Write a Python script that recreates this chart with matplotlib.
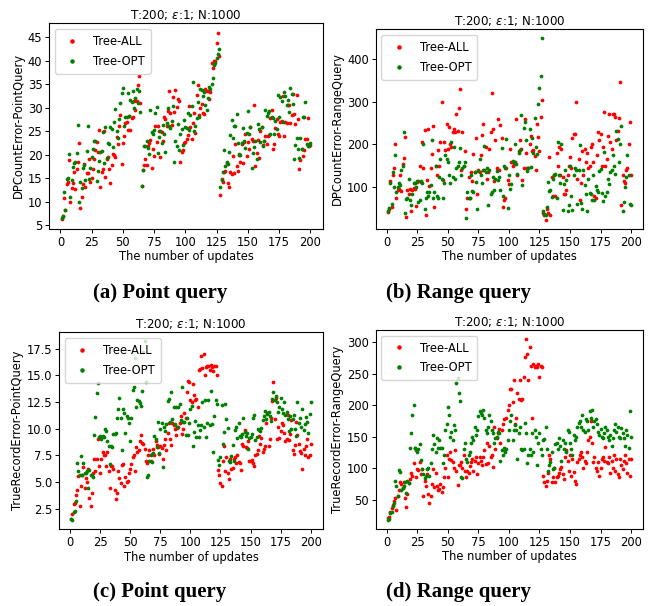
import numpy as np
import matplotlib
matplotlib.use("Agg")
import matplotlib.pyplot as plt
from matplotlib.ticker import MultipleLocator

# ---------------- data ----------------
labels = ["Tree-ALL", "Tree-OPT"]
title_txt = r"T:200; $\varepsilon$:1; N:1000"
xlabel_txt = "The number of updates"
ylabels = ["DPCountError-PointQuery", "DPCountError-RangeQuery",
           "TrueRecordError-PointQuery", "TrueRecordError-RangeQuery"]
captions = ["(a) Point query", "(b) Range query", "(c) Point query", "(d) Range query"]

# (a) DPCountError-PointQuery
a_all = [
    6.2, 7.0, 10.8, 8.3, 13.7, 14.2, 18.8, 9.9, 12.9, 13.9,
    16.2, 12.6, 17.0, 18.4, 22.5, 8.6, 11.0, 13.8, 17.9, 13.0,
    16.0, 16.1, 19.0, 14.1, 15.0, 17.0, 19.0, 21.0, 22.7, 20.5,
    25.2, 13.2, 16.3, 17.0, 25.1, 15.2, 19.0, 19.4, 17.0, 13.9,
    17.8, 20.2, 20.0, 19.5, 23.8, 22.3, 26.2, 28.5, 18.0, 22.5,
    24.0, 26.8, 27.0, 25.2, 28.2, 25.3, 27.9, 28.0, 31.4, 29.6,
    31.5, 34.8, 36.8, 31.0,
    13.3, 16.8, 17.8, 19.0, 17.8, 21.8, 22.4, 23.1, 17.1, 21.3,
    19.8, 26.0, 22.7, 26.0, 25.0, 19.5, 24.9, 23.0, 28.0, 27.6,
    26.0, 29.2, 33.6, 28.8, 26.3, 32.3, 29.0, 33.7, 30.2, 31.8,
    31.5, 18.5, 20.6, 21.0, 22.4, 22.6, 23.4, 24.1, 30.4, 25.8,
    23.4, 26.7, 28.8, 24.6, 32.8, 34.9, 28.4, 30.0, 30.8, 28.8,
    28.7, 33.9, 33.5, 33.6, 31.9, 33.3, 39.6, 38.4, 39.9, 40.0,
    43.7, 46.0, 41.0,
    11.4, 14.8, 14.2, 16.2, 16.6, 18.3, 14.0, 13.0, 16.4, 15.8,
    19.8, 16.0, 22.3, 17.5, 16.5, 19.9, 18.5, 22.3, 18.2, 22.6,
    24.5, 19.8, 22.7, 21.2, 25.8, 23.4, 22.8, 30.5, 17.6, 20.4,
    23.2, 19.2, 25.1, 25.8, 22.0, 22.9, 24.0, 22.2, 24.0, 24.1,
    27.7, 29.6, 21.1, 22.2, 25.6, 27.6, 24.4, 24.0, 27.0, 27.2,
    32.6, 24.0, 26.9, 26.7, 30.5, 30.5, 26.7, 28.5, 33.0, 28.6,
    26.5, 32.8, 27.5, 17.0, 18.8, 21.2, 19.6, 21.0, 23.4, 23.4,
    27.7, 21.9, 22.0]
a_opt = [
    6.5, 7.0, 12.1, 8.3, 14.8, 15.0, 20.2, 11.0, 14.5, 17.4,
    18.3, 18.5, 20.3, 26.4, 10.0, 14.2, 12.8, 17.1, 17.7, 14.6,
    20.7, 26.2, 14.7, 17.1, 19.5, 21.2, 22.9, 23.0, 14.3, 16.6,
    18.7, 20.6, 20.7, 24.9, 18.2, 25.9, 19.2, 22.5, 22.3, 25.8,
    25.4, 21.6, 27.0, 29.8, 25.1, 23.5, 27.5, 31.0, 33.1, 34.1,
    26.2, 28.1, 28.1, 33.2, 28.2, 31.6, 31.3, 33.5, 30.0, 32.0,
    34.0, 31.0, 33.5, 29.0,
    13.3, 16.8, 21.8, 21.9, 22.8, 21.5, 20.2, 29.6, 24.8, 24.4,
    25.3, 28.9, 30.2, 20.3, 23.8, 25.0, 22.5, 26.4, 24.5, 20.5,
    26.8, 29.9, 26.0, 25.6, 27.2, 30.4, 18.5, 23.0, 21.8, 26.6,
    21.0, 24.4, 25.4, 22.0, 27.3, 25.9, 25.7, 28.9, 25.3, 28.5,
    30.4, 35.4, 25.0, 26.0, 27.7, 31.3, 28.1, 33.9, 33.8, 32.5,
    33.4, 30.6, 29.5, 32.0, 34.5, 34.0, 35.0, 36.3, 39.0, 39.5,
    40.7, 41.5, 42.6,
    13.0, 14.6, 16.2, 21.0, 17.5, 18.4, 18.0, 20.5, 24.2, 27.4,
    23.6, 26.0, 26.2, 28.7, 22.5, 20.1, 20.0, 22.5, 25.6, 22.8,
    21.5, 24.6, 29.4, 24.5, 25.9, 17.2, 20.3, 21.7, 22.8, 19.0,
    26.6, 25.5, 22.6, 25.9, 21.8, 23.0, 29.6, 28.3, 28.8, 29.2,
    24.4, 28.0, 27.8, 24.4, 27.2, 25.5, 32.8, 28.1, 32.2, 31.4,
    27.0, 33.3, 32.6, 30.5, 31.6, 29.0, 34.3, 32.9, 30.8, 19.0,
    22.0, 23.6, 21.1, 19.2, 23.5, 21.3, 28.0, 28.0, 31.3, 22.2,
    21.8, 22.0, 22.4]

# (b) DPCountError-RangeQuery
b_all = [
    42, 50, 115, 55, 130, 145, 200, 75, 95, 97,
    128, 92, 155, 168, 218, 30, 95, 85, 96, 45,
    95, 98, 97, 57, 113, 115, 150, 113, 206, 145,
    234, 35, 118, 235, 103, 145, 178, 242, 55, 150,
    128, 187, 150, 205, 298, 118, 205, 187, 248, 190,
    240, 200, 195, 230, 236, 230, 270, 232, 285, 328,
    140, 230, 150, 185,
    50, 75, 125, 75, 135, 115, 178, 135, 215, 85,
    140, 135, 175, 222, 248, 140, 195, 120, 135, 190,
    228, 320, 235, 115, 210, 145, 260, 140, 245, 215,
    55, 70, 75, 145, 118, 108, 190, 160, 150, 155,
    160, 260, 130, 185, 210, 190, 118, 145, 260, 180,
    145, 145, 200, 220, 185, 188, 172, 140, 248, 218,
    185, 265, 304,
    40, 35, 25, 50, 40, 170, 35, 125, 80, 130,
    80, 180, 150, 195, 130, 190, 125, 85, 85, 95,
    130, 150, 170, 145, 215, 225, 225, 300, 120, 165,
    70, 110, 185, 130, 190, 160, 180, 145, 150, 195,
    200, 160, 80, 75, 175, 230, 210, 225, 150, 195,
    275, 150, 165, 220, 270, 205, 190, 270, 270, 265,
    210, 232, 262, 345, 60, 130, 115, 110, 140, 145,
    200, 252, 128]
b_opt = [
    45, 52, 110, 62, 135, 100, 175, 90, 100, 110,
    105, 140, 150, 230, 40, 72, 75, 120, 70, 60,
    85, 110, 110, 100, 115, 65, 70, 115, 110, 200,
    50, 75, 90, 80, 90, 105, 210, 75, 90, 150,
    80, 75, 125, 165, 120, 75, 110, 175, 165, 160,
    130, 110, 205, 125, 195, 120, 145, 150, 160, 192,
    128, 145, 150, 160,
    28, 90, 75, 75, 128, 92, 90, 135, 112, 50,
    138, 165, 128, 110, 140, 197, 135, 145, 58, 140,
    85, 90, 125, 95, 120, 138, 118, 125, 95, 192,
    80, 150, 145, 212, 52, 128, 97, 108, 162, 160,
    200, 155, 132, 180, 188, 268, 105, 238, 253, 210,
    138, 145, 237, 148, 215, 180, 261, 195, 178, 295,
    332, 360, 447,
    45, 38, 35, 55, 112, 92, 95, 78, 120, 128,
    132, 75, 205, 130, 110, 200, 48, 108, 140, 118,
    45, 60, 150, 80, 48, 128, 145, 140, 62, 140,
    198, 63, 50, 140, 105, 85, 45, 120, 88, 85,
    70, 128, 70, 103, 95, 90, 138, 142, 88, 68,
    182, 80, 90, 120, 108, 135, 140, 175, 150, 132,
    232, 213, 160, 200, 242, 45, 65, 100, 125, 175,
    128, 62, 60]

# (c) TrueRecordError-PointQuery
c_all = [
    1.5, 2.0, 2.9, 3.0, 3.8, 4.2, 5.6, 2.7, 4.6, 5.7,
    6.4, 4.4, 5.4, 5.0, 6.2, 3.5, 2.7, 4.0, 5.8, 7.2,
    6.0, 7.2, 9.0, 6.5, 5.8, 7.2, 7.8, 7.5, 7.5, 6.5,
    7.8, 6.0, 4.4, 6.5, 6.5, 6.2, 4.2, 3.4, 4.0, 6.0,
    5.4, 4.9, 6.6, 6.7, 4.6, 5.5, 5.0, 5.1, 5.8, 6.2,
    6.7, 7.3, 7.5, 6.0, 8.3, 7.8, 8.0, 8.8, 9.4, 8.7,
    8.6, 8.1, 7.0, 6.8,
    7.5, 8.0, 7.0, 7.6, 8.1, 7.5, 8.8, 8.5, 8.3, 7.6,
    8.4, 8.2, 7.2, 8.5, 9.0, 8.0, 9.6, 10.5, 9.0, 8.5,
    10.5, 10.3, 10.0, 9.4, 10.1, 10.2, 10.5, 11.2, 9.5, 10.0,
    11.5, 11.0, 13.4, 14.5, 14.4, 12.7, 12.5, 14.2, 13.2, 12.7,
    12.8, 12.0, 15.5, 15.6, 16.8, 15.7, 17.0, 15.0, 15.8, 15.9,
    15.9, 15.5, 16.0, 15.8, 15.4, 15.9, 15.9, 15.0,
    6.1, 5.7, 4.9, 4.6, 7.0, 8.4, 6.0, 7.3, 5.8, 5.3,
    7.2, 6.2, 6.3, 7.2, 7.3, 6.8, 7.5, 6.9, 6.8, 6.1,
    8.6, 8.4, 9.9, 8.3, 8.2, 8.8, 7.0, 7.0, 7.1, 6.8,
    6.5, 7.5, 7.6, 8.0, 9.3, 8.6, 9.1, 7.8, 8.1, 8.4,
    10.5, 11.5, 8.4, 9.0, 11.0, 12.6, 14.4, 10.9, 12.9, 9.0,
    10.2, 9.1, 9.8, 10.5, 10.3, 9.6, 8.8, 9.0, 11.3, 8.9,
    9.5, 10.8, 8.0, 7.6, 8.5, 10.6, 9.4, 8.6,
    7.9, 7.7, 6.2, 8.1, 7.5, 8.4, 9.0, 7.3, 7.5, 8.6]
c_opt = [
    1.5, 1.4, 2.2, 2.3, 3.2, 6.8, 6.0, 5.7, 7.4, 5.7,
    6.8, 5.8, 5.8, 6.0, 4.4, 6.1, 5.7, 5.7, 5.5, 9.4,
    11.1, 13.3, 14.3, 9.2, 9.3, 9.0, 9.3, 9.2, 10.0, 9.8,
    8.8, 8.4, 6.7, 8.4, 8.3, 9.5, 9.5, 9.6, 11.0, 11.8,
    12.9, 11.0, 8.0, 11.8, 11.5, 9.6, 11.2, 11.0, 10.5, 8.8,
    11.0, 13.6, 13.9, 16.6, 12.0, 12.7, 12.6, 12.4, 12.1, 13.5,
    17.2, 18.2, 14.4, 5.5,
    5.7, 7.0, 7.5, 6.9, 7.7, 9.3, 9.0, 8.3, 10.6, 7.7,
    10.0, 10.5, 6.4, 10.2, 9.8, 10.4, 12.6, 12.8, 10.6, 13.4,
    10.9, 12.0, 10.4, 12.0, 10.2, 12.0, 12.3, 10.8, 13.9, 10.6,
    10.6, 9.4, 11.0, 9.4, 10.5, 11.8, 12.1, 8.4, 9.7, 10.7,
    9.2, 10.3, 9.2, 9.9, 10.3, 12.5, 10.2, 12.7, 9.2, 10.5,
    12.7, 10.3, 13.5, 10.4, 7.8, 11.2, 12.7, 12.3,
    7.1, 6.6, 7.3, 12.2, 8.6, 9.7, 12.3, 10.9, 10.1, 7.0,
    6.9, 7.4, 8.5, 7.0, 9.9, 10.2, 9.1, 10.5, 9.3, 9.2,
    9.5, 11.0, 9.7, 9.3, 9.6, 8.1, 9.1, 9.2, 9.5, 11.0,
    11.3, 8.9, 9.2, 10.0, 9.9, 9.8, 10.1, 10.8, 11.2, 11.7,
    10.9, 11.4, 11.6, 11.2, 10.7, 12.8, 13.4, 12.7, 13.1, 12.5,
    11.6, 12.0, 12.9, 11.8, 11.5, 12.5, 11.3, 11.6, 10.9, 9.8,
    11.2, 10.0, 10.9, 11.3, 10.0, 9.3, 12.5, 10.5, 11.0, 10.2,
    11.8, 9.9, 10.4, 11.1, 10.6, 9.6, 11.4, 12.5]

# (d) TrueRecordError-RangeQuery
d_all = [
    20, 22, 30, 37, 42, 48, 52, 34, 56, 65,
    78, 74, 68, 78, 52, 38, 58, 76, 82, 92,
    88, 108, 132, 85, 98, 97, 110, 90, 98, 56,
    80, 72, 90, 58, 44, 55, 75, 98, 70, 92,
    72, 65, 67, 75, 62, 70, 85, 100, 120, 85,
    115, 125, 113, 110, 100, 128, 95, 73, 105, 105,
    110, 100, 120, 95,
    86, 95, 92, 103, 110, 115, 95, 112, 118, 90,
    108, 118, 112, 105, 118, 128, 106, 140, 108, 135,
    117, 120, 102, 165, 130, 148, 155, 162, 140, 160,
    170, 178, 130, 180, 192, 200, 225, 225, 205, 240,
    170, 180, 220, 210, 240, 208, 210, 245, 276, 305,
    282, 240, 292, 262, 180, 265, 260, 262, 260, 265,
    245, 262, 260,
    88, 78, 72, 80, 92, 120, 115, 78, 85, 100,
    78, 85, 88, 92, 98, 102, 90, 82, 118, 128,
    112, 95, 120, 88, 115, 93, 80, 75, 110, 115,
    120, 125, 118, 100, 112, 108, 126, 145, 150, 175,
    140, 110, 118, 100, 95, 110, 88, 100, 115, 118,
    112, 133, 110, 108, 118, 92, 112, 100, 120, 95,
    115, 90, 85, 115, 105, 98, 112, 120, 108, 92,
    115, 88, 115]
d_opt = [
    18, 19, 28, 30, 40, 45, 79, 72, 55, 97,
    93, 65, 68, 72, 78, 60, 80, 76, 132, 155,
    185, 200, 132, 128, 125, 130, 138, 113, 98, 90,
    84, 87, 98, 100, 88, 108, 130, 152, 138, 125,
    148, 132, 145, 132, 132, 108, 120, 160, 170, 197,
    185, 150, 158, 145, 168, 160, 235, 243, 219, 206,
    85, 84, 130, 140,
    115, 110, 120, 125, 140, 150, 145, 165, 152, 160,
    182, 190, 188, 185, 192, 180, 160, 155, 165, 185,
    175, 160, 155, 140, 148, 150, 158, 155, 112, 128,
    120, 132, 126, 130, 145, 160, 175, 185, 145, 160,
    168, 160, 115, 155, 165, 130, 128, 130, 172, 155,
    108, 120, 130, 120, 155, 125, 160, 150, 105, 140,
    155, 130, 120,
    145, 146, 165, 130, 95, 105, 110, 125, 98, 100,
    138, 140, 130, 148, 135, 112, 145, 130, 140, 125,
    160, 158, 140, 130, 120, 152, 145, 150, 165, 172,
    175, 165, 185, 160, 158, 178, 175, 160, 190, 180,
    192, 165, 175, 178, 170, 158, 152, 162, 150, 148,
    155, 165, 160, 150, 145, 152, 135, 148, 160, 170,
    158, 165, 150, 147, 163, 155, 148, 135, 160, 152,
    132, 190, 150]

series = [(a_all, a_opt), (b_all, b_opt), (c_all, c_opt), (d_all, d_opt)]
colors = ["red", "green"]
y_steps = [5, 100, 2.5, 50]

# ---------------- layout ----------------
W, H = 655, 606
fig = plt.figure(figsize=(W / 100, H / 100), dpi=100)

boxes = [(49.3, 23.3, 322.7, 228.7),
         (375.7, 29.3, 643.3, 228.7),
         (59.3, 332.3, 322.7, 529.3),
         (375.7, 330.0, 643.3, 528.7)]
cap_pos = [(160, 293), (458, 293), (160, 592), (458, 592)]

fs = 8.3
for i, (l, t, r, b) in enumerate(boxes):
    ax = fig.add_axes([l / W, 1 - b / H, (r - l) / W, (b - t) / H])
    for vals, col, lab in zip(series[i], colors, labels):
        x = np.arange(1, len(vals) + 1)
        ax.plot(x, vals, 'o', color=col, markersize=2.7, markeredgewidth=0, label=lab)
    ax.set_xticks([0, 25, 50, 75, 100, 125, 150, 175, 200])
    ax.yaxis.set_major_locator(MultipleLocator(y_steps[i]))
    ax.tick_params(labelsize=fs, length=3, width=0.7, pad=2)
    ax.set_xlabel(xlabel_txt, fontsize=fs, labelpad=1)
    ax.set_ylabel(ylabels[i], fontsize=fs, labelpad=2)
    ax.set_title(title_txt, fontsize=8.6, pad=3)
    for sp in ax.spines.values():
        sp.set_linewidth(0.8)
    ax.legend(loc="upper left", fontsize=fs, markerscale=1.2, handlelength=2.0,
              borderpad=0.5, labelspacing=0.6, fancybox=True, framealpha=0.8)
    fig.text(cap_pos[i][0] / W, 1 - cap_pos[i][1] / H, captions[i],
             ha="center", va="center", fontsize=15, fontweight="bold",
             family="Liberation Serif")

fig.savefig("out.png", dpi=100)
